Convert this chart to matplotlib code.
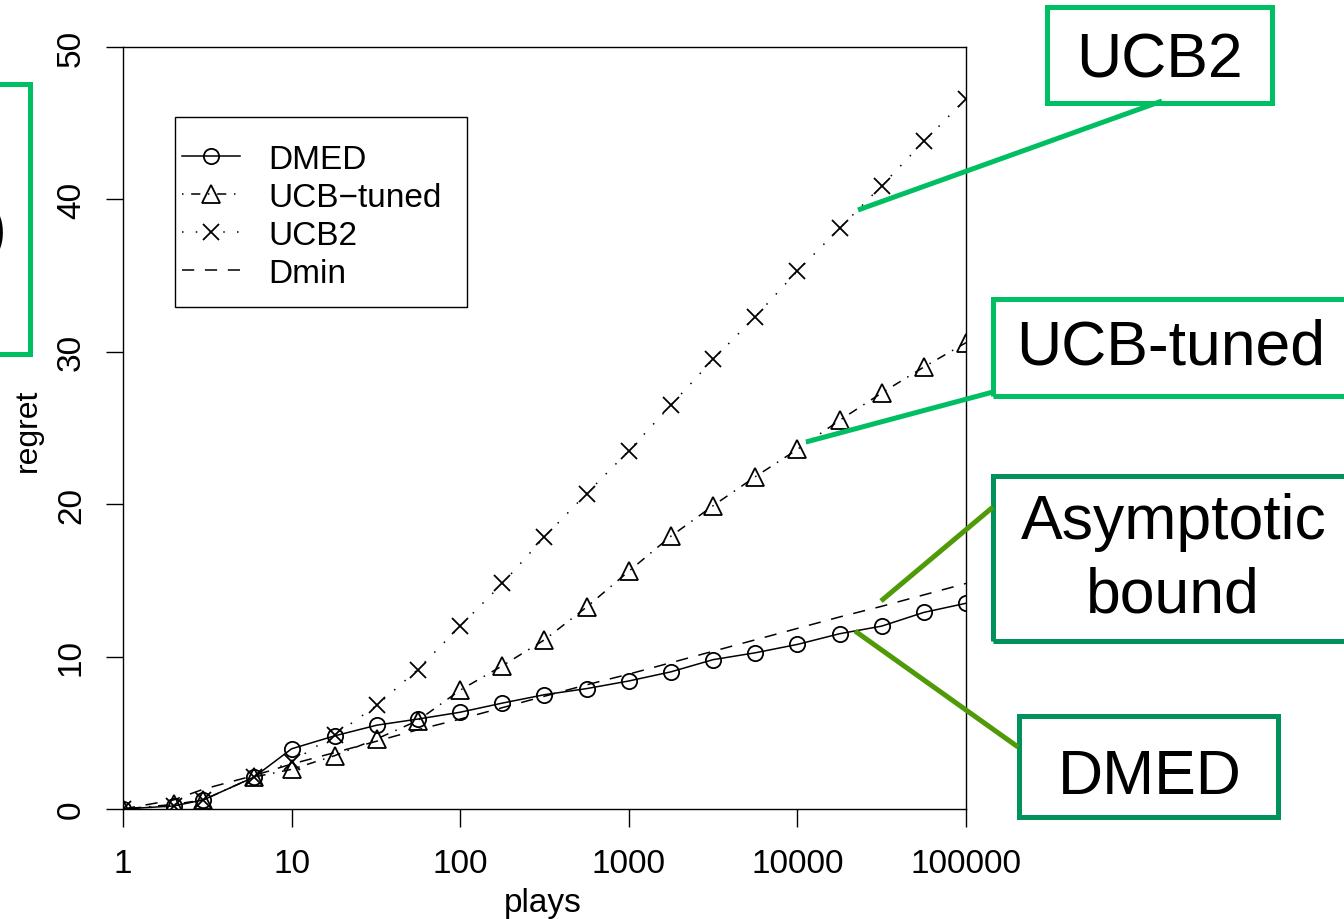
import matplotlib
matplotlib.use("Agg")
import matplotlib.pyplot as plt
from matplotlib.lines import Line2D
from matplotlib.patches import Rectangle

plt.rcParams['font.family'] = ['Liberation Sans', 'DejaVu Sans']

# ---------------- data ----------------
plays = [1, 2, 3, 6, 10, 18, 32, 56, 100, 178, 316, 562, 1000, 1778, 3162,
         5623, 10000, 17783, 31623, 56234, 100000]
dmed = [0, 0.2, 0.6, 2.1, 3.95, 4.8, 5.5, 5.9, 6.35, 6.95, 7.5, 7.9, 8.4,
        9.0, 9.8, 10.25, 10.8, 11.5, 12.0, 12.9, 13.5]
ucb_tuned = [0, 0.3, 0.6, 2.1, 2.6, 3.5, 4.6, 5.8, 7.8, 9.4, 11.1, 13.25,
             15.6, 17.9, 19.9, 21.8, 23.6, 25.5, 27.3, 29.0, 30.6]
ucb2 = [0, 0.2, 0.6, 2.1, 3.1, 4.85, 6.8, 9.15, 12.0, 14.8, 17.85, 20.7,
        23.5, 26.5, 29.5, 32.3, 35.3, 38.1, 40.9, 43.8, 46.6]
dmin = [0, 0.6, 1.3, 2.2, 2.95, 3.7, 4.45, 5.2, 5.9, 6.65, 7.4, 8.15, 8.85,
        9.6, 10.35, 11.1, 11.85, 12.6, 13.3, 14.05, 14.8]
xticks = [1, 10, 100, 1000, 10000, 100000]
xticklabels = ["1", "10", "100", "1000", "10000", "100000"]
yticks = [0, 10, 20, 30, 40, 50]
legend_labels = ["DMED", "UCB\u2212tuned", "UCB2", "Dmin"]

W, H = 1344, 920
fig = plt.figure(figsize=(W / 100, H / 100), dpi=100)


def fx(x):
    return x / W


def fy(y):
    return 1 - y / H


ax = fig.add_axes([fx(123), fy(810), fx(966) - fx(123), fy(48) - fy(810)])
ax.set_xscale('log')
ax.set_xlim(1, 100000)
ax.set_ylim(0, 50)

lw = 1.1
mew = 1.3
ax.plot(plays, dmed, color='black', lw=lw, ls='-', marker='o', ms=11,
        mfc='none', mec='black', mew=mew)
ax.plot(plays, ucb_tuned, color='black', lw=lw, ls=(0, (1, 5, 6, 5)),
        marker='^', ms=13.5, mfc='none', mec='black', mew=mew)
ax.plot(plays, ucb2, color='black', lw=lw, ls=(0, (1, 8)), marker='x',
        ms=11, mfc='none', mec='black', mew=mew)
ax.plot(plays, dmin, color='black', lw=lw, ls=(0, (8, 7)))

ax.set_xticks(xticks)
ax.set_xticklabels(xticklabels)
ax.minorticks_off()
ax.set_yticks(yticks)
ax.set_yticklabels([str(v) for v in yticks], rotation=90, va='center')
ax.tick_params(axis='x', direction='out', length=13, width=1, pad=15,
               labelsize=24)
ax.tick_params(axis='y', direction='out', length=12, width=1, pad=14,
               labelsize=24)
for s in ax.spines.values():
    s.set_linewidth(1.0)

# axis labels
fig.text(fx(543), fy(912), "plays", ha='center', va='baseline', fontsize=24)
fig.text(fx(28), fy(430), "regret", ha='center', va='center', fontsize=23,
         rotation=90)

# legend (manual, R-style)
fig.add_artist(Rectangle((fx(175), fy(308)), fx(467) - fx(175),
                         fy(118) - fy(308), transform=fig.transFigure,
                         fill=False, ec='black', lw=1.0))
leg_styles = [
    dict(ls='-', marker='o', ms=11),
    dict(ls=(0, (1, 5, 6, 5)), marker='^', ms=13.5),
    dict(ls=(0, (1, 8)), marker='x', ms=11),
    dict(ls=(0, (8, 7)), marker=None, ms=0),
]
for i, (lab, st) in enumerate(zip(legend_labels, leg_styles)):
    yy = 157 + 38 * i
    fig.add_artist(Line2D([fx(182), fx(240)], [fy(yy), fy(yy)],
                          transform=fig.transFigure, color='black', lw=lw,
                          ls=st['ls']))
    if st['marker']:
        fig.add_artist(Line2D([fx(211)], [fy(yy)], transform=fig.transFigure,
                              color='black', ls='none', marker=st['marker'],
                              ms=st['ms'], mfc='none', mec='black', mew=mew))
    fig.text(fx(268), fy(yy + 12), lab, ha='left', va='baseline', fontsize=24)

# annotation boxes
bright = '#00BF63'
dark = '#00925A'
olive = '#4F9A06'
blw = 3.6


def box(x0, y0, x1, y1, color):
    fig.add_artist(Rectangle((fx(x0), fy(y1)), fx(x1) - fx(x0),
                             fy(y0) - fy(y1), transform=fig.transFigure,
                             fill=False, ec=color, lw=blw, zorder=10))


def conn(x0, y0, x1, y1, color):
    fig.add_artist(Line2D([fx(x0), fx(x1)], [fy(y0), fy(y1)],
                          transform=fig.transFigure, color=color, lw=blw,
                          zorder=10, solid_capstyle='butt'))


box(-20, 85, 30, 355, bright)
fig.text(fx(6), fy(232), ")", ha='right', va='center', fontsize=45)

box(1047, 8, 1272, 104, bright)
fig.text(fx(1159), fy(78), "UCB2", ha='center', va='baseline', fontsize=45)
conn(1162, 102, 858, 211, bright)

box(993, 300, 1360, 397, bright)
fig.text(fx(1171), fy(365), "UCB-tuned", ha='center', va='baseline',
         fontsize=45)
conn(993, 393, 806, 443, bright)

box(993, 477, 1360, 642, dark)
fig.text(fx(1174), fy(539), "Asymptotic", ha='center', va='baseline',
         fontsize=45)
fig.text(fx(1173), fy(613), "bound", ha='center', va='baseline', fontsize=45)
conn(993, 508, 881, 602, olive)

box(1019, 717, 1278, 818, dark)
fig.text(fx(1150), fy(794), "DMED", ha='center', va='baseline', fontsize=45)
conn(1018, 748, 855, 632, olive)

fig.savefig("out.png", dpi=100)
